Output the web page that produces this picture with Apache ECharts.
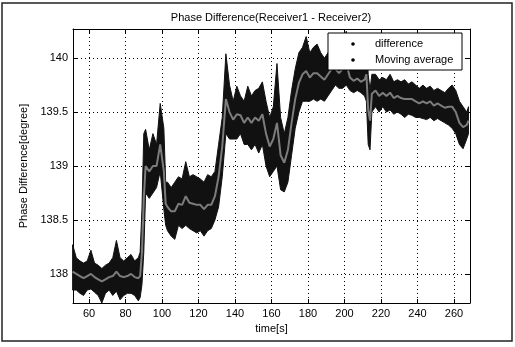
<!DOCTYPE html>
<html>
<head>
<meta charset="utf-8">
<script src="https://cdn.jsdelivr.net/npm/echarts@6/dist/echarts.min.js"></script>
<style>
  html, body { margin: 0; padding: 0; background: #fff; }
  #chart { width: 515px; height: 347px; }
</style>
</head>
<body>
<div id="chart"></div>
<script>
// time stamps [s]
const times = [
  51, 53, 55, 57, 59, 61, 63, 65, 67, 69, 71, 73, 75, 77, 79, 81, 83, 85, 87, 88,
  89, 90, 91, 93, 95, 97, 99, 101, 102, 103, 105, 107, 109, 111, 113, 115, 117, 119, 121, 123,
  125, 127, 129, 131, 133, 135, 137, 139, 141, 143, 145, 147, 149, 151, 153, 155, 157, 159, 161, 163,
  165, 167, 169, 171, 173, 175, 177, 179, 181, 183, 185, 187, 189, 191, 193, 195, 197, 199, 201, 203,
  205, 207, 209, 211, 212, 213, 214, 215, 217, 219, 221, 223, 225, 227, 229, 231, 233, 235, 237, 239,
  241, 243, 245, 247, 249, 251, 253, 255, 257, 259, 261, 263, 265, 267, 268
]
// upper edge of the "difference" scatter
const diffUpper = [
  138.27, 138.15, 138.12, 138.10, 138.12, 138.22, 138.10, 138.08, 138.05, 138.08, 138.10, 138.15, 138.31, 138.15, 138.12, 138.15, 138.18, 138.12, 138.15, 138.20,
  138.60, 139.30, 139.34, 139.15, 139.30, 139.20, 139.58, 139.35, 138.85, 138.85, 138.80, 138.85, 138.90, 138.88, 139.04, 138.90, 138.92, 138.90, 138.88, 138.85,
  138.92, 138.90, 138.95, 139.20, 139.45, 140.04, 139.75, 139.60, 139.74, 139.65, 139.60, 139.74, 139.65, 139.70, 139.72, 139.78, 139.60, 139.45, 139.55, 139.95,
  139.45, 139.30, 139.45, 139.70, 139.90, 140.05, 140.10, 140.20, 140.05, 140.10, 140.13, 140.05, 140.00, 140.05, 140.10, 140.05, 140.00, 140.10, 140.25, 139.95,
  139.90, 139.92, 139.88, 139.95, 140.22, 139.85, 139.70, 139.85, 139.85, 139.80, 139.82, 139.80, 139.85, 139.78, 139.80, 139.78, 139.80, 139.76, 139.78, 139.75,
  139.72, 139.75, 139.72, 139.74, 139.70, 139.72, 139.70, 139.68, 139.72, 139.75, 139.70, 139.60, 139.55, 139.50, 139.55
]
// lower edge of the "difference" scatter
const diffLower = [
  137.85, 137.85, 137.82, 137.80, 137.85, 137.86, 137.83, 137.80, 137.73, 137.82, 137.85, 137.80, 137.84, 137.76, 137.80, 137.82, 137.82, 137.80, 137.75, 137.78,
  137.90, 138.20, 138.75, 138.70, 138.75, 138.80, 138.95, 138.60, 138.45, 138.40, 138.35, 138.32, 138.45, 138.42, 138.45, 138.42, 138.40, 138.38, 138.40, 138.35,
  138.40, 138.42, 138.50, 138.62, 138.90, 139.30, 139.25, 139.25, 139.25, 139.30, 139.20, 139.20, 139.15, 139.20, 139.12, 139.20, 139.00, 138.90, 138.95, 139.00,
  138.78, 138.76, 138.85, 139.10, 139.35, 139.50, 139.60, 139.60, 139.60, 139.62, 139.60, 139.62, 139.60, 139.65, 139.70, 139.75, 139.72, 139.72, 139.75, 139.70,
  139.68, 139.70, 139.68, 139.65, 139.60, 139.20, 139.15, 139.50, 139.55, 139.50, 139.55, 139.50, 139.52, 139.48, 139.50, 139.48, 139.45, 139.48, 139.47, 139.45,
  139.45, 139.44, 139.43, 139.45, 139.42, 139.44, 139.42, 139.40, 139.38, 139.35, 139.30, 139.20, 139.16, 139.25, 139.30
]
// moving average
const movingAvg = [
  138.02, 138.00, 137.98, 137.96, 137.98, 138.00, 137.97, 137.95, 137.93, 137.95, 137.97, 137.98, 138.02, 137.98, 137.97, 137.98, 138.00, 137.97, 137.96, 137.98,
  138.20, 138.70, 139.00, 138.95, 139.00, 139.00, 139.20, 138.95, 138.65, 138.62, 138.58, 138.58, 138.65, 138.64, 138.72, 138.66, 138.65, 138.64, 138.64, 138.60,
  138.64, 138.64, 138.72, 138.90, 139.18, 139.62, 139.50, 139.43, 139.48, 139.47, 139.40, 139.45, 139.40, 139.45, 139.42, 139.48, 139.30, 139.18, 139.25, 139.40,
  139.10, 139.03, 139.15, 139.40, 139.62, 139.77, 139.85, 139.88, 139.82, 139.86, 139.86, 139.83, 139.80, 139.85, 139.90, 139.90, 139.86, 139.90, 139.95, 139.82,
  139.79, 139.81, 139.78, 139.80, 139.85, 139.52, 139.42, 139.67, 139.70, 139.65, 139.68, 139.65, 139.68, 139.63, 139.65, 139.63, 139.62, 139.62, 139.62, 139.60,
  139.58, 139.60, 139.58, 139.60, 139.56, 139.58, 139.56, 139.54, 139.55, 139.55, 139.50, 139.40, 139.36, 139.38, 139.42
]
const xTicks = [60, 80, 100, 120, 140, 160, 180, 200, 220, 240, 260]
const yTicks = [138, 138.5, 139, 139.5, 140]
const legendNames = ['difference', 'Moving average']

const FONT = 'Liberation Sans, Arial, Helvetica, sans-serif'
const X_MIN = 51.2
const X_MAX = 268.8
const Y_MIN = 137.73
const Y_MAX = 140.27

const chart = echarts.init(document.getElementById('chart'), null, { renderer: 'canvas' })

const tickLabel = list => v => (list.some(t => Math.abs(t - v) < 1e-6) ? String(v) : '')

// the dense "difference" points drawn as one filled polygon between the upper and lower edges
function renderBand(params, api) {
  if (params.dataIndex !== 0) return
  const pts = []
  times.forEach((t, i) => pts.push(api.coord([t, diffUpper[i]])))
  for (let i = times.length - 1; i >= 0; i--) pts.push(api.coord([times[i], diffLower[i]]))
  return {
    type: 'polygon',
    shape: { points: pts },
    style: { fill: '#111', stroke: '#111', lineWidth: 1 }
  }
}

// legend box like the matlab one: white box, dot marker, label
const legendBox = { x: 328, y: 33, w: 134, h: 37 }
const legendItems = [
  { type: 'rect', shape: { x: legendBox.x, y: legendBox.y, width: legendBox.w, height: legendBox.h },
    style: { fill: '#fff', stroke: '#000', lineWidth: 1 }, z: 100 }
]
legendNames.forEach((name, i) => {
  const cy = legendBox.y + 11 + i * 16
  legendItems.push({ type: 'circle', shape: { cx: legendBox.x + 25, cy: cy, r: 1.8 },
    style: { fill: '#000' }, z: 101 })
  legendItems.push({ type: 'text', x: legendBox.x + 47, y: cy,
    style: { text: name, font: '11px ' + FONT, fill: '#000', textAlign: 'left', textVerticalAlign: 'middle' }, z: 101 })
})

const baseX = {
  type: 'value',
  min: X_MIN,
  max: X_MAX,
  splitNumber: 11,
  minInterval: 20,
  maxInterval: 20,
  axisLine: { show: true, onZero: false, lineStyle: { color: '#000', width: 1 } },
  axisTick: { show: true, inside: true, length: 4, lineStyle: { color: '#000' } }
}
const baseY = {
  type: 'value',
  min: Y_MIN,
  max: Y_MAX,
  splitNumber: 5,
  minInterval: 0.5,
  maxInterval: 0.5,
  axisLine: { show: true, onZero: false, lineStyle: { color: '#000', width: 1 } },
  axisTick: { show: true, inside: true, length: 4, lineStyle: { color: '#000' } }
}

chart.setOption({
  animation: false,
  backgroundColor: '#fff',
  textStyle: { fontFamily: FONT },
  grid: { left: 73, right: 45, top: 29, bottom: 44, containLabel: false },
  graphic: [
    {
      type: 'rect',
      shape: { x: 2, y: 3, width: 510, height: 338 },
      style: { fill: 'none', stroke: '#222', lineWidth: 1.5 },
      z: 0
    },
    {
      type: 'text',
      x: 271,
      y: 18,
      style: {
        text: 'Phase Difference(Receiver1 - Receiver2)',
        font: '11px ' + FONT,
        fill: '#000',
        textAlign: 'center',
        textVerticalAlign: 'middle'
      }
    }
  ].concat(legendItems),
  xAxis: [
    Object.assign({}, baseX, {
      position: 'bottom',
      name: 'time[s]',
      nameLocation: 'middle',
      nameGap: 18,
      nameTextStyle: { color: '#000', fontSize: 11, fontFamily: FONT },
      axisLabel: { color: '#000', fontSize: 11, margin: 5, formatter: tickLabel(xTicks) },
      splitLine: { show: true, lineStyle: { color: '#000', width: 1, type: [1, 3] } }
    }),
    Object.assign({}, baseX, {
      position: 'top',
      axisLabel: { show: false },
      splitLine: { show: false }
    })
  ],
  yAxis: [
    Object.assign({}, baseY, {
      position: 'left',
      name: 'Phase Difference[degree]',
      nameLocation: 'middle',
      nameGap: 40,
      nameTextStyle: { color: '#000', fontSize: 11, fontFamily: FONT },
      axisLabel: { color: '#000', fontSize: 11, margin: 5, formatter: tickLabel(yTicks) },
      splitLine: { show: true, lineStyle: { color: '#000', width: 1, type: [1, 3] } }
    }),
    Object.assign({}, baseY, {
      position: 'right',
      axisLabel: { show: false },
      splitLine: { show: false }
    })
  ],
  series: [
    {
      name: legendNames[0],
      type: 'custom',
      renderItem: renderBand,
      encode: { x: 0, y: 1 },
      data: [[times[0], diffLower[0]]],
      itemStyle: { color: '#111' },
      z: 2
    },
    {
      name: legendNames[1],
      type: 'line',
      symbol: 'none',
      lineStyle: { color: '#7c7c7c', width: 2 },
      data: times.map((t, i) => [t, movingAvg[i]]),
      z: 3
    }
  ]
})
</script>
</body>
</html>
